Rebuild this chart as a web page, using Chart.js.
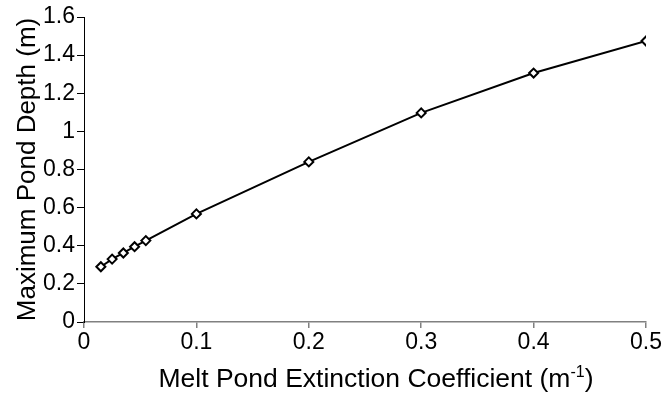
<!DOCTYPE html>
<html>
<head>
<meta charset="utf-8">
<script src="https://cdn.jsdelivr.net/npm/chart.js@4/dist/chart.umd.min.js"></script>
<style>
  html, body { margin: 0; padding: 0; background: #fff; }
  #wrap { width: 671px; height: 394px; }
</style>
</head>
<body>
<div id="wrap"><canvas id="chart" width="671" height="394"></canvas></div>
<script>
// extinction coefficient (m^-1) vs max pond depth (m)
const extCoef   = [0.015, 0.025, 0.035, 0.045, 0.055, 0.1, 0.2, 0.3, 0.4, 0.5];
const pondDepth = [0.29, 0.33, 0.362, 0.395, 0.427, 0.567, 0.84, 1.097, 1.306, 1.474];
const xTicks = [0, 0.1, 0.2, 0.3, 0.4, 0.5];
const yTicks = [0, 0.2, 0.4, 0.6, 0.8, 1, 1.2, 1.4, 1.6];

const points = extCoef.map((x, i) => ({ x: x, y: pondDepth[i] }));
const font = 'Arial, "Liberation Sans", sans-serif';

// x title with a real superscript, drawn under the axis
const xTitlePlugin = {
  id: 'xTitle',
  afterDraw(chart) {
    const ctx = chart.ctx;
    const area = chart.chartArea;
    const main = 'Melt Pond Extinction Coefficient (m';
    const sup = '-1';
    const tail = ')';
    ctx.save();
    ctx.fillStyle = '#000';
    ctx.textBaseline = 'alphabetic';
    ctx.font = '26.5px ' + font;
    const wMain = ctx.measureText(main).width;
    const wTail = ctx.measureText(tail).width;
    ctx.font = '16px ' + font;
    const wSup = ctx.measureText(sup).width;
    const total = wMain + wSup + wTail;
    let x = (area.left + area.right) / 2 + 11 - total / 2;
    const base = 387;
    ctx.font = '26.5px ' + font;
    ctx.fillText(main, x, base);
    x += wMain;
    ctx.font = '16px ' + font;
    ctx.fillText(sup, x, base - 10);
    x += wSup;
    ctx.font = '26.5px ' + font;
    ctx.fillText(tail, x, base);
    ctx.restore();
  }
};

new Chart(document.getElementById('chart'), {
  type: 'scatter',
  data: {
    datasets: [{
      data: points,
      showLine: true,
      borderColor: '#000',
      borderWidth: 2,
      pointStyle: 'rectRot',
      pointRadius: 4.5,
      pointBackgroundColor: '#fff',
      pointBorderColor: '#000',
      pointBorderWidth: 2
    }]
  },
  options: {
    responsive: false,
    animation: false,
    devicePixelRatio: 1,
    layout: { padding: { top: 17, right: 25, left: 0, bottom: 0 } },
    plugins: { legend: { display: false }, tooltip: { enabled: false } },
    scales: {
      x: {
        type: 'linear',
        min: 0, max: 0.5,
        afterBuildTicks: (axis) => { axis.ticks = xTicks.map(v => ({ value: v })); },
        afterFit: (axis) => { axis.height = 72; axis.paddingRight = 0; axis.paddingLeft = 0; },
        grid: { drawOnChartArea: false, drawTicks: true, tickLength: 6, color: '#808080', lineWidth: 1.5 },
        border: { color: '#808080', width: 1.5 },
        ticks: { color: '#000', font: { family: font, size: 23 }, padding: 1, maxRotation: 0,
                 callback: (v) => String(v) },
        title: { display: false }
      },
      y: {
        type: 'linear',
        min: 0, max: 1.6,
        afterBuildTicks: (axis) => { axis.ticks = yTicks.map(v => ({ value: v })); },
        afterFit: (axis) => { axis.width = 84; axis.paddingTop = 0; axis.paddingBottom = 0; },
        grid: { drawOnChartArea: false, drawTicks: true, tickLength: 7, color: '#000' },
        border: { color: '#000', width: 1 },
        ticks: { color: '#000', font: { family: font, size: 23 }, padding: 2,
                 callback: (v) => String(v) },
        title: { display: true, text: 'Maximum Pond Depth (m)', color: '#000',
                 font: { family: font, size: 26 }, padding: { top: 12, bottom: 0 } }
      }
    }
  },
  plugins: [xTitlePlugin]
});
</script>
</body>
</html>
